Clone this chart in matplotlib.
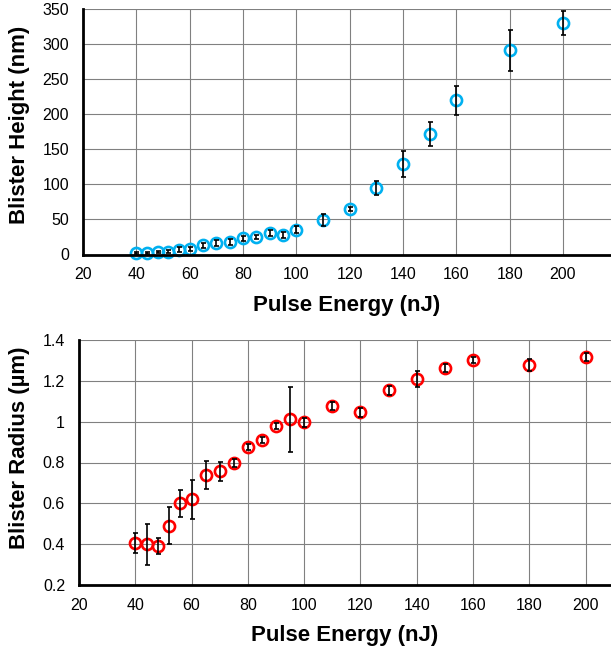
import matplotlib
matplotlib.use("Agg")
import matplotlib.pyplot as plt

plt.rcParams['font.family'] = ['Liberation Sans', 'DejaVu Sans']

# Blister height vs pulse energy
energy_h = [40, 44, 48, 52, 56, 60, 65, 70, 75, 80, 85, 90, 95, 100, 110, 120,
            130, 140, 150, 160, 180, 200]
height = [2, 2, 3, 4, 7, 8, 13, 16, 18, 23, 25, 31, 28, 35.5, 49, 65,
          95, 129, 172, 220, 291, 330]
height_err = [1.5, 1.5, 1.5, 2.5, 3, 3, 4, 4, 4, 4, 3, 4, 4, 5, 9, 3,
              9.5, 19, 17, 20.5, 29, 17]

# Blister radius vs pulse energy
energy_r = [40, 44, 48, 52, 56, 60, 65, 70, 75, 80, 85, 90, 95, 100, 110, 120,
            130, 140, 150, 160, 180, 200]
radius = [0.405, 0.40, 0.39, 0.49, 0.60, 0.62, 0.738, 0.756, 0.796, 0.878,
          0.912, 0.98, 1.012, 0.996, 1.076, 1.045, 1.153, 1.209, 1.261, 1.302,
          1.276, 1.315]
radius_err = [0.05, 0.10, 0.04, 0.09, 0.066, 0.095, 0.067, 0.047, 0.02, 0.015,
              0.015, 0.015, 0.16, 0.02, 0.02, 0.02, 0.02, 0.037, 0.02, 0.015,
              0.03, 0.02]

x_ticks = [20, 40, 60, 80, 100, 120, 140, 160, 180, 200]
h_ticks = [0, 50, 100, 150, 200, 250, 300, 350]
r_ticks = [0.2, 0.4, 0.6, 0.8, 1.0, 1.2, 1.4]
r_ticklabels = ['0.2', '0.4', '0.6', '0.8', '1', '1.2', '1.4']

fig = plt.figure(figsize=(6.11, 6.5), dpi=100)
ax1 = fig.add_axes([83 / 611, (650 - 254.5) / 650, 1 - 83 / 611, (254.5 - 9) / 650])
ax2 = fig.add_axes([79 / 611, (650 - 585) / 650, 1 - 79 / 611, (585 - 340) / 650])


def style(ax):
    ax.grid(True, color='#808080', linewidth=0.8)
    ax.set_axisbelow(True)
    for s in ('top', 'right'):
        ax.spines[s].set_visible(False)
    for s in ('left', 'bottom'):
        ax.spines[s].set_linewidth(2.0)
        ax.spines[s].set_color('black')
        ax.spines[s].set_zorder(5)
    ax.tick_params(length=0, labelsize=11.5)
    ax.tick_params(axis='x', pad=9)
    ax.tick_params(axis='y', pad=10)


def draw(ax, x, y, err, color):
    ax.plot(x, y, linestyle='none', marker='o', markersize=8,
            markerfacecolor='none', markeredgecolor=color,
            markeredgewidth=1.9, zorder=3, clip_on=False)
    ax.errorbar(x, y, yerr=err, fmt='none', ecolor='black', elinewidth=1.2,
                capsize=1.8, capthick=1.2, zorder=4, clip_on=False)


draw(ax1, energy_h, height, height_err, '#00B0F0')
style(ax1)
ax1.set_xlim(20, 218)
ax1.set_ylim(0, 350)
ax1.set_xticks(x_ticks)
ax1.set_yticks(h_ticks)
ax1.set_xlabel('Pulse Energy (nJ)', fontsize=16, fontweight='bold', labelpad=9)
ax1.set_ylabel('Blister Height (nm)', fontsize=16, fontweight='bold', labelpad=9)
ax1.yaxis.label.set_y(0.53)

draw(ax2, energy_r, radius, radius_err, '#FF0000')
style(ax2)
ax2.set_xlim(20, 209)
ax2.set_ylim(0.2, 1.4)
ax2.set_xticks(x_ticks)
ax2.set_yticks(r_ticks)
ax2.set_yticklabels(r_ticklabels)
ax2.set_xlabel('Pulse Energy (nJ)', fontsize=16, fontweight='bold', labelpad=9)
ax2.set_ylabel('Blister Radius (µm)', fontsize=16, fontweight='bold', labelpad=9)
ax2.yaxis.label.set_y(0.56)

fig.savefig('out.png', dpi=100)
